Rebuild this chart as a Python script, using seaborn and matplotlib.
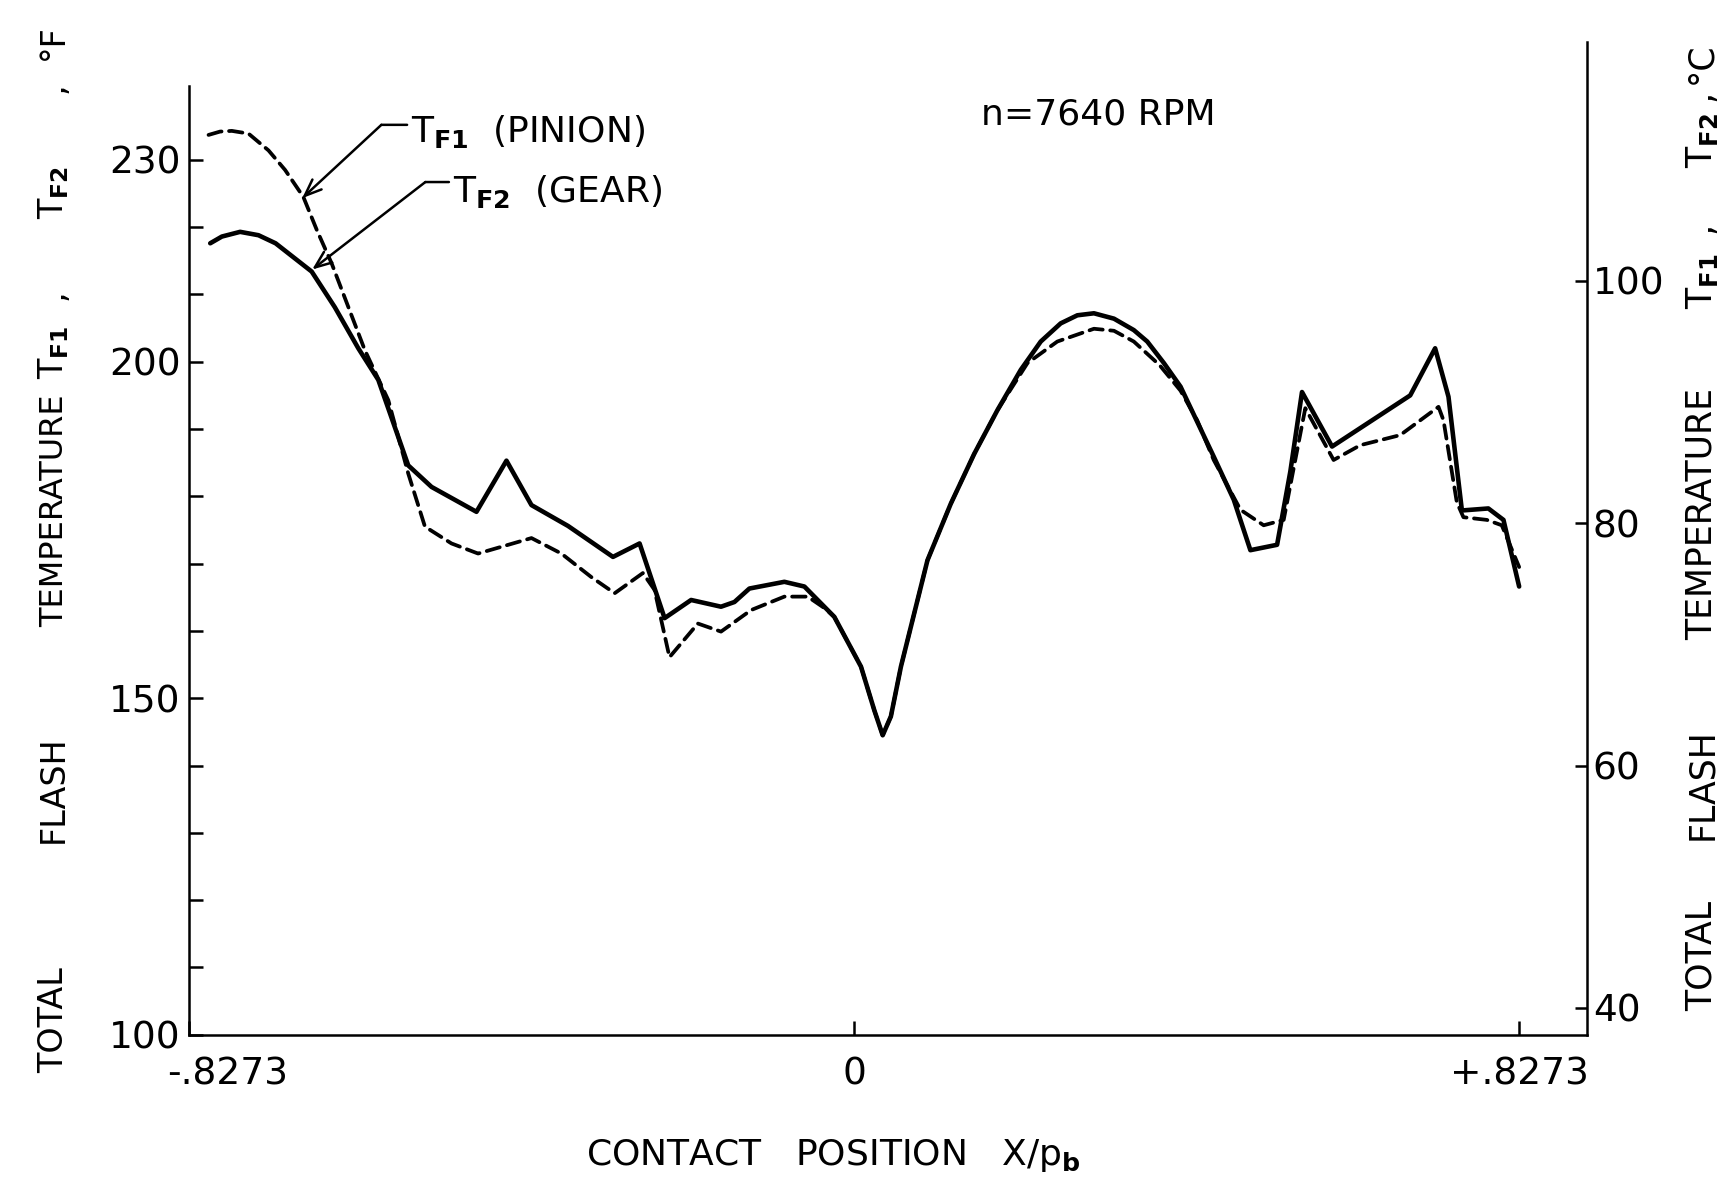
import matplotlib
matplotlib.use("Agg")
import matplotlib.pyplot as plt
import matplotlib.transforms as mtransforms
import seaborn as sns

# ---- data ----
# T_F2 (GEAR) : solid line, contact position X/p_b vs temperature (deg F)
x_gear = [-0.8009, -0.7864, -0.7637, -0.7409, -0.7196, -0.6747, -0.6459, -0.6167,
          -0.5918, -0.5546, -0.5256, -0.4697, -0.4324, -0.4013, -0.3558, -0.2999,
          -0.2668, -0.2357, -0.2027, -0.1655, -0.1488, -0.1302, -0.0867, -0.0618,
          -0.0246, 0.0086, 0.0252, 0.0356, 0.0458, 0.0583, 0.0913, 0.1203, 0.1494,
          0.1783, 0.2074, 0.2322, 0.2570, 0.2777, 0.2984, 0.3233, 0.3480, 0.3647,
          0.3854, 0.4061, 0.4474, 0.4723, 0.4930, 0.5262, 0.5427, 0.5572, 0.5946,
          0.6918, 0.7228, 0.7394, 0.7561, 0.7890, 0.8078, 0.8273]
t_gear = [217.6, 218.6, 219.3, 218.8, 217.6, 213.4, 208.1, 202.0,
          197.3, 184.6, 181.4, 177.7, 185.3, 178.7, 175.6, 171.0,
          173.0, 161.9, 164.6, 163.6, 164.3, 166.3, 167.3, 166.6,
          162.1, 154.7, 148.2, 144.5, 147.3, 154.7, 170.5, 178.9, 186.3,
          192.8, 198.8, 203.0, 205.7, 206.9, 207.2, 206.4, 204.7, 203.0,
          199.8, 196.3, 185.9, 179.5, 172.0, 172.8, 183.7, 195.5, 187.4,
          195.0, 202.0, 194.8, 177.9, 178.2, 176.5, 166.6]

# T_F1 (PINION) : dashed line
x_pinion = [-0.8030, -0.7886, -0.7740, -0.7533, -0.7284, -0.7078, -0.6851, -0.6684,
            -0.6498, -0.6085, -0.5794, -0.5546, -0.5338, -0.5008, -0.4677, -0.4013,
            -0.3641, -0.3268, -0.2978, -0.2627, -0.2482, -0.2296, -0.1943, -0.1655,
            -0.1281, -0.0867, -0.0577, -0.0369, -0.0246, 0.0086, 0.0252, 0.0356,
            0.0458, 0.0583, 0.0913, 0.1203, 0.1494, 0.1783, 0.2157, 0.2528, 0.2984,
            0.3233, 0.3480, 0.3800, 0.4061, 0.4268, 0.4474, 0.4807, 0.5095, 0.5344,
            0.5613, 0.5965, 0.6297, 0.6794, 0.7270, 0.7332, 0.7498, 0.7580, 0.7871,
            0.8057, 0.8273]
t_pinion = [233.7, 234.2, 234.3, 233.9, 231.4, 228.5, 224.5, 219.6,
            214.6, 201.7, 194.3, 183.4, 175.5, 173.0, 171.5, 173.8,
            171.5, 168.0, 165.6, 168.6, 166.1, 156.1, 161.1, 159.9,
            163.1, 165.1, 165.1, 163.4, 162.1, 154.7, 148.2, 144.5,
            147.3, 154.7, 170.5, 178.9, 186.3, 192.8, 199.8, 203.0, 204.9,
            204.6, 203.0, 199.5, 195.7, 191.3, 185.4, 178.0, 175.7, 176.5,
            193.1, 185.4, 187.6, 189.1, 193.3, 191.3, 179.1, 176.9, 176.5,
            175.7, 169.5]

yticks_f = [100, 110, 120, 130, 140, 150, 160, 170, 180, 190, 200, 210, 220, 230]
yticklabels_f = ["100", "", "", "", "", "150", "", "", "", "", "200", "", "", "230"]
yticks_c = [40, 60, 80, 100]
xticks = [-0.8273, 0.0, 0.8273]
xticklabels = ["-.8273", "0", "+.8273"]

# ---- styling ----
sns.set_theme(style="white")
plt.rcParams["font.family"] = ["DejaVu Sans"]
plt.rcParams["mathtext.default"] = "regular"
plt.rcParams["text.color"] = "black"
plt.rcParams["axes.labelcolor"] = "black"

fig = plt.figure(figsize=(17.26, 11.88), dpi=100)
ax = fig.add_axes([0.1095, 0.129, 0.8101, 0.8356])

sns.lineplot(x=x_gear, y=t_gear, ax=ax, color="black", lw=3.3, sort=False,
             estimator=None, solid_joinstyle="round", solid_capstyle="round")
sns.lineplot(x=x_pinion, y=t_pinion, ax=ax, color="black", lw=2.7, sort=False,
             estimator=None, linestyle="--")
ax.lines[-1].set_dashes((3.6, 2.0))
ax.lines[-1].set_dash_capstyle("round")
ax.lines[-1].set_dash_joinstyle("round")

F_LO, F_HI = 100, 247.5
ax.set_xlim(-0.8273, 0.912)
ax.set_ylim(F_LO, F_HI)

for s in ["top", "right"]:
    ax.spines[s].set_visible(False)
ax.spines["left"].set_bounds(100, 241)
for s in ["left", "bottom"]:
    ax.spines[s].set_linewidth(1.8)
    ax.spines[s].set_color("black")

ax.set_yticks(yticks_f)
ax.set_yticklabels(yticklabels_f)
ax.set_xticks(xticks)
ax.set_xticklabels(xticklabels)
ax.tick_params(axis="y", left=True, direction="in", length=10, width=1.8,
               labelsize=27, pad=6, colors="black")
ax.tick_params(axis="x", bottom=True, direction="in", length=10, width=1.8,
               labelsize=27, pad=16, colors="black")
lab0 = ax.get_xticklabels()[0]
lab0.set_transform(lab0.get_transform() +
                   mtransforms.ScaledTranslation(28 / 72, 0, fig.dpi_scale_trans))

ax2 = ax.twinx()
ax2.set_ylim((F_LO - 32) * 5 / 9, (F_HI - 32) * 5 / 9)
ax2.set_yticks(yticks_c)
ax2.set_yticklabels([str(v) for v in yticks_c])
for s in ["top", "left", "bottom"]:
    ax2.spines[s].set_visible(False)
ax2.spines["right"].set_linewidth(1.8)
ax2.spines["right"].set_color("black")
ax2.tick_params(axis="y", right=True, direction="in", length=9, width=1.8,
                labelsize=27, pad=4, colors="black")
ax2.grid(False)
ax.grid(False)

# ---- annotations ----
ax.text(0.3036, 236.7, "n=7640 RPM", ha="center", va="center", fontsize=26)

ax.text(-0.5511, 234.2, r"T$_{\mathbf{F1}}$  (PINION)", ha="left", va="center",
        fontsize=26)
ax.text(-0.4991, 225.3, r"T$_{\mathbf{F2}}$  (GEAR)", ha="left", va="center",
        fontsize=26)
arrow_kw = dict(arrowstyle="->,head_length=0.55,head_width=0.22", color="black",
                lw=1.8, shrinkA=0, shrinkB=0, mutation_scale=22)
ax.annotate("", xy=(-0.6865, 224.3), xytext=(-0.5880, 235.2), arrowprops=arrow_kw)
ax.annotate("", xy=(-0.5880, 235.2), xytext=(-0.5560, 235.2),
            arrowprops=dict(arrowstyle="-", color="black", lw=1.8,
                            shrinkA=0, shrinkB=0))
ax.annotate("", xy=(-0.6741, 213.7), xytext=(-0.5333, 226.7), arrowprops=arrow_kw)
ax.annotate("", xy=(-0.5333, 226.7), xytext=(-0.5040, 226.7),
            arrowprops=dict(arrowstyle="-", color="black", lw=1.8,
                            shrinkA=0, shrinkB=0))

# ---- axis titles (word-spaced, as in the original lettering) ----
lab_kw = dict(rotation=90, rotation_mode="anchor", ha="center", va="baseline",
              color="black")
left_parts = [("TOTAL", 0.141, 24), ("FLASH", 0.3356, 24),
              ("TEMPERATURE", 0.5700, 23),
              (r"T$_{\mathbf{F1}}$", 0.7035, 24), (",", 0.7517, 24),
              (r"T$_{\mathbf{F2}}$", 0.8378, 24), (",", 0.9259, 24),
              ("°F", 0.9648, 24)]
for txt, fy, fs in left_parts:
    fig.text(0.0365, fy, txt, fontsize=fs, **lab_kw)

right_parts = [("TOTAL", 0.1957), ("FLASH", 0.3403), ("TEMPERATURE", 0.5673),
               (r"T$_{\mathbf{F1}}$", 0.7637), (",", 0.8082),
               (r"T$_{\mathbf{F2}}$", 0.8814), (",", 0.9194), ("°C", 0.9472)]
for txt, fy in right_parts:
    fig.text(0.9917, fy, txt, fontsize=25, **lab_kw)

fig.text(0.4828, 0.0271, r"CONTACT   POSITION   X/p$_{\mathbf{b}}$", ha="center",
         va="center", fontsize=26, color="black")

fig.savefig("out.png", dpi=100, facecolor="white")
